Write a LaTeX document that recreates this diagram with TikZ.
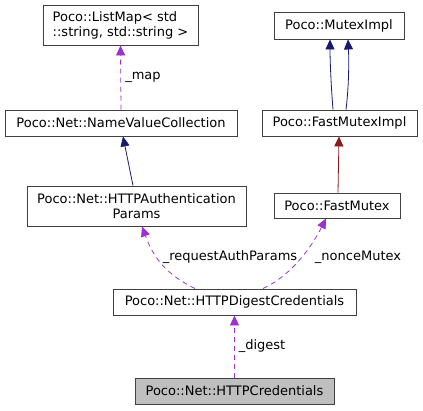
\documentclass[tikz,border=0pt]{standalone}
\usepackage{fontspec}
\setmainfont{DejaVu Sans}
\usetikzlibrary{arrows.meta}
\definecolor{edgeblue}{HTML}{191970}
\definecolor{edgered}{HTML}{8B1A1A}
\definecolor{edgeuse}{HTML}{9A32CD}
\definecolor{boxline}{HTML}{404040}
\tikzset{
  cls/.style={draw=boxline,line width=0.9pt,inner sep=2pt,align=center,font=\fontsize{13}{15}\selectfont},
  lbl/.style={font=\fontsize{13}{15}\selectfont,inner sep=1pt},
  inherit/.style={line width=0.8pt,-{Triangle[length=10pt,width=9pt]}},
  uses/.style={line width=0.8pt,color=edgeuse,dash pattern=on 5pt off 4pt,-{Triangle[length=10pt,width=9pt,color=edgeuse]}}
}
\begin{document}
\begin{tikzpicture}[x=1pt,y=-1pt]
\useasboundingbox (0,0) rectangle (423,411);
\node[cls,align=left,minimum width=155pt,minimum height=40pt] (listmap) at (120.5,25) {Poco::ListMap< std\\::string, std::string >};
\node[cls,minimum width=130pt,minimum height=27pt] (muteximpl) at (339,25.5) {Poco::MutexImpl};
\node[cls,minimum width=232pt,minimum height=26pt] (namevalue) at (121,123) {Poco::Net::NameValueCollection};
\node[cls,minimum width=155pt,minimum height=26pt] (fastmuteximpl) at (339.5,123) {Poco::FastMutexImpl};
\node[cls,minimum width=219pt,minimum height=40pt] (authparams) at (136.5,206) {Poco::Net::HTTPAuthentication\\Params};
\node[cls,minimum width=126pt,minimum height=25pt] (fastmutex) at (337,205.5) {Poco::FastMutex};
\node[cls,minimum width=243pt,minimum height=26pt] (digestcred) at (234.5,302) {Poco::Net::HTTPDigestCredentials};
\node[cls,fill=black!25,minimum width=199pt,minimum height=26pt] (httpcred) at (234.5,391) {Poco::Net::HTTPCredentials};
% inheritance
\draw[inherit,edgeblue] (authparams.north -| 133,0) -- (namevalue.south -| 123,0);
\draw[inherit,edgeblue] (fastmuteximpl.north -| 333,0) .. controls (331,85) and (330,60) .. (muteximpl.south -| 330,0);
\draw[inherit,edgeblue] (fastmuteximpl.north -| 346,0) .. controls (349,85) and (349,60) .. (muteximpl.south -| 348,0);
\draw[inherit,edgered] (fastmutex.north -| 338,0) -- (fastmuteximpl.south -| 339,0);
% members
\draw[uses] (namevalue.north -| 121,0) -- (listmap.south);
\draw[uses] (digestcred.north -| 195,0) .. controls (170,276) and (155,262) .. (authparams.south -| 142,0);
\draw[uses] (digestcred.north -| 263,0) .. controls (290,276) and (310,250) .. (fastmutex.south -| 326,0);
\draw[uses] (httpcred.north) -- (digestcred.south);
\node[lbl] (lmap) at (143,77) {\_map};
\node[lbl] (lreq) at (230,257) {\_requestAuthParams};
\node[lbl] (lnonce) at (358,257) {\_nonceMutex};
\node[lbl] (ldigest) at (262,346) {\_digest};
\end{tikzpicture}
\end{document}
